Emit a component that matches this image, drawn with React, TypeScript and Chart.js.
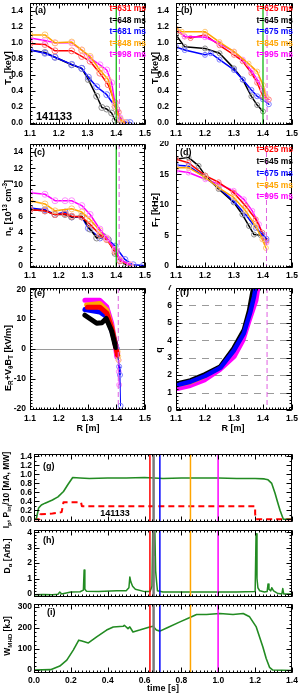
import React, { useEffect, useRef } from 'react';
import { Chart, registerables } from 'chart.js';
Chart.register(...registerables);

const FONT = '"Liberation Sans", Arial, Helvetica, sans-serif';

// ================= labels / categories =================
const teLegend = ['t=631 ms', 't=648 ms', 't=681 ms', 't=848 ms', 't=998 ms'];
const tiLegend = ['t=625 ms', 't=645 ms', 't=675 ms', 't=845 ms', 't=995 ms'];
const seriesColors = ['#ff0000', '#000000', '#0000ff', '#ffa500', '#ff00ff'];
const markerColors = ['#ff7a7a', '#8c8c8c', '#7c7cff', '#ffc878', '#ff8cff'];
const shotNumber = '141133';

// tick values
const rTicks = [1.1, 1.2, 1.3, 1.4, 1.5];
const tempTicks = [0, 0.2, 0.4, 0.6, 0.8, 1.0, 1.2, 1.4];
const neTicks = [0, 2, 4, 6, 8, 10, 12, 14];
const ftTicks = [0, 5, 10, 15, 20];
const erTicks = [-20, -10, 0, 10, 20];
const qTicks = [0, 1, 2, 3, 4, 5, 6, 7];
const qGrid = [1, 2, 3, 4, 5, 6];
const timeTicks = [0, 0.2, 0.4, 0.6, 0.8, 1.0, 1.2, 1.4];
const ipTicks = [0, 0.2, 0.4, 0.6, 0.8, 1.0, 1.2, 1.4];
const daTicks = [0, 1, 2, 3, 4];
const wTicks = [0, 100, 200, 300];

// separatrix markers (R [m])
const sepGreenR = 1.4;
const sepMagR_a = 1.411, sepMagR_b = 1.414, sepMagR_c = 1.41, sepMagR_d = 1.412, sepMagR_e = 1.407, sepMagR_f = 1.414;

// ================= (a) Te =================
const teR_red = [1.1, 1.152, 1.187, 1.245, 1.28, 1.309, 1.343, 1.372, 1.396, 1.407, 1.419];
const te_red = [0.99, 0.98, 0.9, 0.9, 0.83, 0.77, 0.62, 0.475, 0.25, 0.13, 0.01];
const teR_black = [1.1, 1.152, 1.187, 1.245, 1.28, 1.303, 1.332, 1.35, 1.367, 1.384, 1.396, 1.407];
const te_black = [0.91, 0.88, 0.82, 0.725, 0.68, 0.54, 0.33, 0.19, 0.17, 0.12, 0.03, 0.01];
const teR_blue = [1.1, 1.152, 1.187, 1.245, 1.28, 1.303, 1.332, 1.367, 1.396, 1.413, 1.436, 1.448];
const te_blue = [0.91, 0.87, 0.82, 0.73, 0.68, 0.57, 0.45, 0.35, 0.2, 0.04, 0.0, 0.0];
const teR_orange = [1.1, 1.152, 1.187, 1.245, 1.28, 1.309, 1.343, 1.372, 1.396, 1.413, 1.43];
const te_orange = [1.1, 1.1, 1.0, 1.01, 0.91, 0.83, 0.66, 0.54, 0.2, 0.04, 0.0];
const teR_magenta = [1.1, 1.152, 1.187, 1.245, 1.28, 1.309, 1.343, 1.367, 1.384, 1.396, 1.413, 1.43];
const te_magenta = [1.06, 1.03, 1.0, 1.0, 0.91, 0.81, 0.725, 0.66, 0.5, 0.225, 0.06, 0.0];

// ================= (b) Ti =================
const tiR_red = [1.1, 1.13, 1.15, 1.2, 1.25, 1.3, 1.33, 1.36, 1.38, 1.4, 1.42];
const ti_red = [1.16, 1.08, 1.06, 1.1, 0.97, 0.85, 0.77, 0.62, 0.5, 0.33, 0.29];
const tiR_black = [1.1, 1.13, 1.2, 1.25, 1.3, 1.33, 1.36, 1.38, 1.4];
const ti_black = [1.1, 0.95, 0.93, 0.87, 0.68, 0.54, 0.33, 0.22, 0.14];
const tiR_blue = [1.1, 1.13, 1.2, 1.22, 1.25, 1.3, 1.33, 1.36, 1.38, 1.4, 1.42];
const ti_blue = [0.95, 0.91, 0.85, 0.87, 0.79, 0.66, 0.54, 0.41, 0.33, 0.29, 0.23];
const tiR_orange = [1.1, 1.12, 1.2, 1.25, 1.3, 1.35, 1.38, 1.4, 1.41];
const ti_orange = [1.18, 1.14, 1.14, 1.01, 0.89, 0.74, 0.64, 0.47, 0.33];
const tiR_magenta = [1.1, 1.13, 1.2, 1.25, 1.3, 1.33, 1.36, 1.38, 1.4, 1.41];
const ti_magenta = [1.18, 1.08, 1.07, 0.99, 0.89, 0.79, 0.65, 0.54, 0.41, 0.3];

// ================= (c) ne =================
const neR_red = [1.1, 1.152, 1.187, 1.222, 1.245, 1.28, 1.309, 1.343, 1.367, 1.396, 1.413, 1.448];
const ne_red = [6.9, 6.75, 6.3, 6.4, 6.1, 6.0, 5.1, 3.8, 3.2, 1.7, 0.6, 0.05];
const neR_black = [1.1, 1.152, 1.187, 1.222, 1.245, 1.28, 1.309, 1.332, 1.355, 1.372, 1.396, 1.413, 1.436];
const ne_black = [6.9, 6.75, 6.3, 6.3, 6.0, 6.1, 4.5, 3.4, 3.6, 3.2, 1.5, 0.6, 0.05];
const neR_blue = [1.1, 1.152, 1.187, 1.222, 1.245, 1.28, 1.303, 1.343, 1.372, 1.396, 1.43, 1.459, 1.494];
const ne_blue = [7.1, 6.9, 6.3, 6.6, 6.0, 6.0, 4.6, 3.4, 3.2, 2.4, 0.75, 0.1, 0.0];
const neR_orange = [1.1, 1.152, 1.187, 1.245, 1.28, 1.309, 1.343, 1.367, 1.396, 1.413, 1.448];
const ne_orange = [8.0, 7.6, 6.75, 7.0, 6.6, 5.7, 4.3, 3.3, 1.9, 0.7, 0.05];
const neR_magenta = [1.1, 1.152, 1.187, 1.222, 1.245, 1.28, 1.309, 1.343, 1.367, 1.396, 1.413, 1.448];
const ne_magenta = [9.0, 8.8, 8.0, 8.0, 8.0, 7.4, 6.3, 4.5, 3.4, 2.0, 0.75, 0.1];

// ================= (d) FT =================
const ftR_red = [1.1, 1.143, 1.201, 1.247, 1.299, 1.34, 1.375, 1.398, 1.412];
const ft_red = [17.5, 16.9, 14.8, 13.7, 12.0, 9.8, 7.6, 5.4, 4.1];
const ftR_black = [1.1, 1.143, 1.178, 1.201, 1.247, 1.299, 1.329, 1.352, 1.369, 1.392, 1.41];
const ft_black = [17.5, 17.8, 16.4, 14.8, 12.6, 10.4, 8.4, 6.5, 5.1, 5.0, 4.1];
const ftR_blue = [1.1, 1.143, 1.201, 1.247, 1.299, 1.34, 1.375, 1.398, 1.412];
const ft_blue = [16.5, 16.4, 14.5, 12.8, 10.6, 8.4, 6.2, 5.1, 4.4];
const ftR_orange = [1.1, 1.143, 1.201, 1.247, 1.299, 1.34, 1.375, 1.398, 1.41];
const ft_orange = [16.1, 16.1, 14.5, 12.8, 11.2, 9.0, 6.5, 4.3, 2.9];
const ftR_magenta = [1.1, 1.143, 1.201, 1.247, 1.299, 1.334, 1.363, 1.386, 1.404, 1.412];
const ft_magenta = [15.6, 15.3, 14.2, 13.4, 12.3, 10.9, 9.0, 6.8, 4.3, 3.8];

// ================= (e) Er =================
const erR_black = [1.291, 1.332, 1.35, 1.365, 1.384, 1.398];
const er_black = [11.3, 8.6, 8.8, 10.2, 6.0, 0.5];
const erR_red = [1.3, 1.343, 1.367, 1.384, 1.398, 1.404];
const er_red = [14.0, 14.0, 12.0, 7.0, 1.0, -2.0];
const erR_blue = [1.291, 1.343, 1.367, 1.384, 1.402];
const er_blue = [13.2, 12.4, 10.8, 6.3, 0.2];
const erR_orange = [1.297, 1.343, 1.367, 1.384, 1.398, 1.404];
const er_orange = [14.7, 15.2, 13.0, 7.4, 1.3, -1.4];
const erR_magenta = [1.291, 1.343, 1.367, 1.384, 1.396, 1.402];
const er_magenta = [16.3, 16.3, 14.1, 8.6, 1.9, -2.6];
const erEdgeR_blue = [1.402, 1.41, 1.413, 1.415];
const erEdge_blue = [0.2, -5.9, -8.7, -19.0];
const erEdgeR_magenta = [1.404, 1.408, 1.409, 1.41];
const erEdge_magenta = [-1.5, -3.7, -7.6, -12.0];
const erEdgeR_orange = [1.405, 1.407, 1.408];
const erEdge_orange = [-0.9, -2.5, -3.7];

// ================= (f) q =================
const qR_black = [1.1, 1.15, 1.2, 1.253, 1.299, 1.334, 1.352, 1.363, 1.372];
const q_black = [1.5, 1.7, 2.05, 2.5, 3.56, 4.6, 5.7, 6.7, 7.5];
const qR_blue = [1.1, 1.15, 1.2, 1.253, 1.299, 1.334, 1.356, 1.369, 1.38];
const q_blue = [1.42, 1.62, 1.95, 2.42, 3.4, 4.4, 5.6, 6.5, 7.5];
const qR_orange = [1.1, 1.15, 1.2, 1.253, 1.299, 1.334, 1.356, 1.372, 1.382];
const q_orange = [1.33, 1.5, 1.85, 2.4, 3.3, 4.3, 5.4, 6.6, 7.5];
const qR_magenta = [1.1, 1.149, 1.2, 1.25, 1.3, 1.33, 1.35, 1.375, 1.386];
const q_magenta = [1.23, 1.42, 1.76, 2.33, 3.09, 4.0, 5.07, 6.3, 7.5];

// ================= (g) Ip, Pinj/10 =================
const ipT = [0.0, 0.012, 0.025, 0.04, 0.06, 0.1, 0.13, 0.16, 0.185, 0.21, 0.25, 0.3, 0.4, 0.5, 0.6, 0.7, 0.8, 0.9, 1.0, 1.1, 1.2, 1.25, 1.27, 1.29, 1.308, 1.322, 1.335, 1.353, 1.4];
const ipV = [0.0, 0.0, 0.25, 0.32, 0.36, 0.43, 0.5, 0.62, 0.78, 0.93, 0.92, 0.91, 0.92, 0.92, 0.93, 0.91, 0.92, 0.92, 0.92, 0.91, 0.91, 0.9, 0.88, 0.8, 0.58, 0.38, 0.2, 0.0, 0.0];
const pinjT = [0.0, 0.03, 0.035, 0.1, 0.15, 0.16, 0.255, 0.26, 1.2, 1.2, 1.205, 1.4];
const pinjV = [0.0, 0.0, 0.11, 0.13, 0.16, 0.38, 0.38, 0.29, 0.29, 0.12, 0.0, 0.0];
const timeLines = [0.629, 0.649, 0.683, 0.849, 0.999];
const timeLineColors = ['#ff0000', '#7a7a7a', '#0000ff', '#ffa500', '#ff00ff'];
const timeLineWidths = [1.5, 2.5, 1.5, 1.5, 1.5];

// ================= (h) D-alpha =================
const daT = [0.0, 0.05, 0.1, 0.13, 0.14, 0.15, 0.2, 0.25, 0.268, 0.272, 0.276, 0.285, 0.35, 0.45, 0.5, 0.515, 0.52, 0.525, 0.535, 0.55, 0.6, 0.63, 0.64, 0.645, 0.65, 0.655, 0.66, 0.665, 0.67, 0.7, 0.8, 0.9, 1.0, 1.1, 1.2, 1.205, 1.21, 1.215, 1.225, 1.25, 1.265, 1.27, 1.275, 1.285, 1.29, 1.3, 1.32, 1.345, 1.35, 1.355, 1.4];
const daV = [-0.05, -0.04, -0.05, -0.02, 0.12, 0.0, 0.12, 0.14, 0.25, 1.55, 0.3, 0.18, 0.15, 0.2, 0.2, 0.4, 1.1, 0.8, 0.5, 0.3, 0.15, 0.15, 0.5, 4.5, 2.5, 4.5, 1.5, 0.8, 0.2, 0.12, 0.12, 0.12, 0.12, 0.12, 0.15, 3.9, 1.0, 0.4, 0.2, 0.12, 0.15, 0.65, 0.3, 0.2, 0.4, 0.2, 0.05, 0.0, 0.35, 0.0, 0.0];

// ================= (i) W_MHD =================
const wT = [0.0, 0.09, 0.14, 0.178, 0.213, 0.243, 0.26, 0.295, 0.34, 0.394, 0.43, 0.484, 0.49, 0.51, 0.52, 0.537, 0.573, 0.628, 0.646, 0.664, 0.683, 0.72, 0.792, 0.846, 0.882, 0.936, 1.008, 1.08, 1.135, 1.17, 1.206, 1.242, 1.26, 1.278, 1.296, 1.4];
const wV = [0, 2, 19, 47, 95, 142, 138, 129, 158, 190, 205, 208, 213, 197, 205, 181, 190, 205, 208, 190, 185, 200, 229, 250, 264, 264, 269, 264, 269, 253, 205, 110, 55, 13, 0, -2];

// ================= helpers =================
const steps = (a: number, b: number, s: number) => {
  const out: number[] = [];
  const n = Math.round((b - a) / s);
  for (let i = 0; i <= n; i++) out.push(+(a + i * s).toFixed(6));
  return out;
};
const fmt1 = (v: number) => v.toFixed(1);
const fmt0 = (v: number) => String(Math.round(v));

type Part = [string, string?];
const GREEN = '#228b22';
const TICK_SIZE = 8.5;

function line(xs: number[], ys: number[], color: string, o: any = {}) {
  return {
    data: xs.map((x, i) => ({ x, y: ys[i] })),
    borderColor: color,
    backgroundColor: color,
    borderWidth: 1.5,
    tension: 0,
    pointRadius: 0,
    fill: false,
    clip: 0,
    borderJoinStyle: 'round',
    borderCapStyle: 'round',
    ...o,
  };
}
function profile(xs: number[], ys: number[], idx: number, o: any = {}) {
  return line(xs, ys, seriesColors[idx], {
    pointRadius: 3,
    pointStyle: 'circle',
    pointBorderColor: markerColors[idx],
    pointBackgroundColor: 'rgba(0,0,0,0)',
    pointBorderWidth: 1,
    ...o,
  });
}

function drawRich(ctx: CanvasRenderingContext2D, parts: Part[], x: number, y: number, size: number, color: string, align: string, rot: boolean) {
  ctx.save();
  ctx.translate(x, y);
  if (rot) ctx.rotate(-Math.PI / 2);
  const segs = parts.map(([t, m]) => {
    const s = m ? size * 0.72 : size;
    ctx.font = `bold ${s}px ${FONT}`;
    return { t, m, s, w: ctx.measureText(t).width };
  });
  const total = segs.reduce((a, s) => a + s.w, 0);
  let cx = align === 'center' ? -total / 2 : align === 'right' ? -total : 0;
  ctx.fillStyle = color;
  ctx.textBaseline = 'middle';
  ctx.textAlign = 'left';
  for (const s of segs) {
    ctx.font = `bold ${s.s}px ${FONT}`;
    const dy = s.m === 'sub' ? size * 0.3 : s.m === 'sup' ? -size * 0.38 : 0;
    ctx.fillText(s.t, cx, dy);
    cx += s.w;
  }
  ctx.restore();
}

type TextSpec = { x: number; y: number; parts: Part[]; color?: string; size?: number; align?: string; rot?: boolean };
type LineSpec = { v: number; color: string; width: number; dash?: number[] };

interface PanelSpec {
  id: string;
  box: { x: number; y: number; w: number; h: number };
  area: { l: number; t: number; r: number; b: number };
  xr: [number, number];
  yr: [number, number];
  xTicks: number[];
  xMinor: number[];
  xFmt: (v: number) => string;
  xLabels: boolean;
  xPad: number;
  yTicks: number[];
  yMinor: number[];
  yFmt: (v: number) => string;
  yPad: number;
  datasets: any[];
  vlines: LineSpec[];
  hlines: LineSpec[];
  texts: TextSpec[];
}

function makeDeco(s: PanelSpec) {
  return {
    id: 'deco_' + s.id,
    beforeDatasetsDraw(chart: any) {
      const { ctx, chartArea: a, scales } = chart;
      ctx.save();
      ctx.beginPath();
      ctx.rect(a.left, a.top, a.right - a.left, a.bottom - a.top);
      ctx.clip();
      for (const h of s.hlines) {
        const py = Math.round(scales.y.getPixelForValue(h.v)) + 0.5;
        ctx.strokeStyle = h.color;
        ctx.lineWidth = h.width;
        ctx.setLineDash(h.dash || []);
        ctx.beginPath();
        ctx.moveTo(a.left, py);
        ctx.lineTo(a.right, py);
        ctx.stroke();
      }
      ctx.restore();
    },
    afterDatasetsDraw(chart: any) {
      const { ctx, chartArea: a, scales } = chart;
      ctx.save();
      ctx.beginPath();
      ctx.rect(a.left, a.top, a.right - a.left, a.bottom - a.top);
      ctx.clip();
      for (const v of s.vlines) {
        const px = scales.x.getPixelForValue(v.v);
        ctx.strokeStyle = v.color;
        ctx.lineWidth = v.width;
        ctx.setLineDash(v.dash || []);
        ctx.beginPath();
        ctx.moveTo(px, a.top);
        ctx.lineTo(px, a.bottom);
        ctx.stroke();
      }
      ctx.restore();
    },
    afterDraw(chart: any) {
      const { ctx, chartArea: a, scales } = chart;
      const { x, y } = scales;
      ctx.save();
      ctx.strokeStyle = '#000';
      ctx.lineWidth = 1;
      ctx.setLineDash([]);
      const L = Math.round(a.left) + 0.5, R = Math.round(a.right) - 0.5;
      const T = Math.round(a.top) + 0.5, B = Math.round(a.bottom) - 0.5;
      ctx.strokeRect(L, T, R - L, B - T);
      ctx.beginPath();
      const xt = (vals: number[], len: number) => {
        for (const v of vals) {
          if (v < s.xr[0] || v > s.xr[1]) continue;
          const px = Math.round(x.getPixelForValue(v)) + 0.5;
          ctx.moveTo(px, B); ctx.lineTo(px, B - len);
          ctx.moveTo(px, T); ctx.lineTo(px, T + len);
        }
      };
      const yt = (vals: number[], len: number) => {
        for (const v of vals) {
          if (v < s.yr[0] || v > s.yr[1]) continue;
          const py = Math.round(y.getPixelForValue(v)) + 0.5;
          ctx.moveTo(L, py); ctx.lineTo(L + len, py);
          ctx.moveTo(R, py); ctx.lineTo(R - len, py);
        }
      };
      xt(s.xMinor, 2); xt(s.xTicks, 5);
      yt(s.yMinor, 2); yt(s.yTicks, 5);
      ctx.stroke();
      ctx.restore();
      for (const t of s.texts) {
        drawRich(ctx, t.parts, t.x - s.box.x, t.y - s.box.y, t.size || 9, t.color || '#000', t.align || 'left', !!t.rot);
      }
    },
  };
}

function buildConfig(s: PanelSpec) {
  const { box, area } = s;
  const yW = area.l - box.x;
  const xH = box.y + box.h - area.b;
  const tickFont = { family: FONT, size: TICK_SIZE, weight: 'bold' };
  const zero = (ax: any) => {
    ax.paddingLeft = 0; ax.paddingRight = 0; ax.paddingTop = 0; ax.paddingBottom = 0;
  };
  return {
    type: 'line',
    data: { datasets: s.datasets },
    options: {
      animation: false,
      responsive: false,
      maintainAspectRatio: false,
      devicePixelRatio: 1,
      events: [],
      layout: {
        autoPadding: false,
        padding: { left: 0, top: area.t - box.y, right: box.x + box.w - area.r, bottom: 0 },
      },
      plugins: { legend: { display: false }, tooltip: { enabled: false }, title: { display: false } },
      scales: {
        x: {
          type: 'linear', position: 'bottom', min: s.xr[0], max: s.xr[1],
          grid: { display: false, drawTicks: false }, border: { display: false },
          ticks: { display: s.xLabels, padding: s.xPad, font: tickFont, color: '#000', autoSkip: false, maxRotation: 0, minRotation: 0, callback: (v: any) => s.xFmt(Number(v)) },
          afterBuildTicks: (ax: any) => { ax.ticks = s.xTicks.map((v) => ({ value: v })); },
          afterFit: (ax: any) => { ax.height = xH; zero(ax); },
        },
        y: {
          type: 'linear', position: 'left', min: s.yr[0], max: s.yr[1],
          grid: { display: false, drawTicks: false }, border: { display: false },
          ticks: { display: true, padding: s.yPad, font: tickFont, color: '#000', autoSkip: false, callback: (v: any) => s.yFmt(Number(v)) },
          afterBuildTicks: (ax: any) => { ax.ticks = s.yTicks.map((v) => ({ value: v })); },
          afterFit: (ax: any) => { ax.width = yW; zero(ax); },
        },
      },
    },
    plugins: [makeDeco(s)],
  };
}

const legendTexts = (labels: string[], xRight: number, ys: number[]): TextSpec[] =>
  labels.map((l, i) => ({ x: xRight, y: ys[i], parts: [[l]] as Part[], color: seriesColors[i], size: 8.5, align: 'right' }));

const magDash = (v: number): LineSpec => ({ v, color: '#e060e0', width: 1, dash: [5, 3] });
const greenSolid = (v: number): LineSpec => ({ v, color: '#00b000', width: 1.2 });
const tLines: LineSpec[] = timeLines.map((v, i) => ({ v, color: timeLineColors[i], width: timeLineWidths[i] }));

const specs: PanelSpec[] = [
  {
    id: 'a', box: { x: 0, y: 0, w: 152, h: 140 }, area: { l: 30, t: 3, r: 145, b: 125 },
    xr: [1.1, 1.5], yr: [-0.03, 1.5], xTicks: rTicks, xMinor: steps(1.1, 1.5, 0.01), xFmt: fmt1, xLabels: true, xPad: 4,
    yTicks: tempTicks, yMinor: steps(0, 1.5, 0.05), yFmt: fmt1, yPad: 7,
    datasets: [
      profile(teR_orange, te_orange, 3), profile(teR_magenta, te_magenta, 4), profile(teR_red, te_red, 0),
      profile(teR_blue, te_blue, 2), profile(teR_black, te_black, 1),
    ],
    vlines: [greenSolid(sepGreenR), magDash(sepMagR_a)], hlines: [],
    texts: [
      { x: 35, y: 11, parts: [['(a)']] },
      ...legendTexts(teLegend, 146, [9, 20.5, 32, 43.5, 55]),
      { x: 54, y: 117, parts: [[shotNumber]], size: 11, align: 'center' },
      { x: 9, y: 68, parts: [['T'], ['e', 'sub'], [' [keV]']], align: 'center', rot: true },
    ],
  },
  {
    id: 'b', box: { x: 148, y: 0, w: 151, h: 140 }, area: { l: 176, t: 3, r: 292, b: 125 },
    xr: [1.1, 1.5], yr: [-0.03, 1.5], xTicks: rTicks, xMinor: steps(1.1, 1.5, 0.01), xFmt: fmt1, xLabels: true, xPad: 4,
    yTicks: tempTicks, yMinor: steps(0, 1.5, 0.05), yFmt: fmt1, yPad: 7,
    datasets: [
      profile(tiR_orange, ti_orange, 3, { pointRadius: 2.5 }), profile(tiR_magenta, ti_magenta, 4, { pointRadius: 2.5 }),
      profile(tiR_red, ti_red, 0, { pointRadius: 2.5 }), profile(tiR_blue, ti_blue, 2, { pointRadius: 2.5 }),
      profile(tiR_black, ti_black, 1, { pointRadius: 2.5 }),
    ],
    vlines: [greenSolid(sepGreenR), magDash(sepMagR_b)], hlines: [],
    texts: [
      { x: 181, y: 11, parts: [['(b)']] },
      ...legendTexts(tiLegend, 293, [9, 20.5, 32, 43.5, 55]),
      { x: 156, y: 68, parts: [['T'], ['i', 'sub'], [' [keV]']], align: 'center', rot: true },
    ],
  },
  {
    id: 'c', box: { x: 0, y: 141, w: 152, h: 142 }, area: { l: 30, t: 144, r: 145, b: 268 },
    xr: [1.1, 1.5], yr: [-0.3, 15], xTicks: rTicks, xMinor: steps(1.1, 1.5, 0.01), xFmt: fmt1, xLabels: true, xPad: 3,
    yTicks: neTicks, yMinor: steps(0, 15, 0.5), yFmt: fmt0, yPad: 7,
    datasets: [
      profile(neR_magenta, ne_magenta, 4), profile(neR_orange, ne_orange, 3), profile(neR_red, ne_red, 0),
      profile(neR_black, ne_black, 1), profile(neR_blue, ne_blue, 2),
    ],
    vlines: [greenSolid(sepGreenR), magDash(sepMagR_c)], hlines: [],
    texts: [
      { x: 34, y: 153, parts: [['(c)']] },
      { x: 8.5, y: 208, parts: [['n'], ['e', 'sub'], [' [10'], ['13', 'sup'], [' cm'], ['-3', 'sup'], [']']], align: 'center', rot: true },
    ],
  },
  {
    id: 'd', box: { x: 148, y: 141, w: 151, h: 142 }, area: { l: 176, t: 144, r: 292, b: 268 },
    xr: [1.1, 1.5], yr: [-0.4, 20], xTicks: rTicks, xMinor: steps(1.1, 1.5, 0.01), xFmt: fmt1, xLabels: true, xPad: 3,
    yTicks: ftTicks, yMinor: steps(0, 20, 1), yFmt: fmt0, yPad: 7,
    datasets: [
      profile(ftR_orange, ft_orange, 3, { pointRadius: 2.5 }), profile(ftR_blue, ft_blue, 2, { pointRadius: 2.5 }),
      profile(ftR_red, ft_red, 0, { pointRadius: 2.5 }), profile(ftR_magenta, ft_magenta, 4, { pointRadius: 2.5 }),
      profile(ftR_black, ft_black, 1, { pointRadius: 2.5 }),
    ],
    vlines: [magDash(sepMagR_d)], hlines: [],
    texts: [
      { x: 180, y: 153, parts: [['(d)']] },
      ...legendTexts(tiLegend, 293, [150, 162, 174, 185.5, 197]),
      { x: 156, y: 210, parts: [['F'], ['T', 'sub'], [' [kHz]']], align: 'center', rot: true },
    ],
  },
  {
    id: 'e', box: { x: 0, y: 285, w: 152, h: 153 }, area: { l: 30, t: 288, r: 145, b: 410 },
    xr: [1.1, 1.5], yr: [-20.4, 20.4], xTicks: rTicks, xMinor: steps(1.1, 1.5, 0.01), xFmt: fmt1, xLabels: true, xPad: 4,
    yTicks: erTicks, yMinor: steps(-20, 20, 1), yFmt: fmt0, yPad: 4,
    datasets: [
      line(erR_black, er_black, '#000000', { borderWidth: 5 }),
      line(erR_red, er_red, '#ff0000', { borderWidth: 5 }),
      line(erEdgeR_blue, erEdge_blue, '#0000ff', { borderWidth: 1, pointRadius: 2.5, pointBorderColor: markerColors[2], pointBackgroundColor: 'rgba(0,0,0,0)' }),
      line(erEdgeR_orange, erEdge_orange, '#ffa500', { borderWidth: 1, pointRadius: 2.5, pointBorderColor: markerColors[3], pointBackgroundColor: 'rgba(0,0,0,0)' }),
      line(erEdgeR_magenta, erEdge_magenta, '#ff00ff', { borderWidth: 1, pointRadius: 2.5, pointBorderColor: markerColors[4], pointBackgroundColor: 'rgba(0,0,0,0)' }),
      line(erR_blue, er_blue, '#0000ff', { borderWidth: 5 }),
      line(erR_orange, er_orange, '#ffa500', { borderWidth: 5 }),
      line(erR_magenta, er_magenta, '#ff00ff', { borderWidth: 5 }),
    ],
    vlines: [magDash(sepMagR_e)], hlines: [{ v: 0, color: '#9a9a9a', width: 1 }],
    texts: [
      { x: 34, y: 294, parts: [['(e)']] },
      { x: 9, y: 358, parts: [['E'], ['R', 'sub'], ['+V'], ['θ', 'sub'], ['B'], ['T', 'sub'], [' [kV/m]']], align: 'center', rot: true },
      { x: 88, y: 429, parts: [['R [m]']], align: 'center' },
    ],
  },
  {
    id: 'f', box: { x: 148, y: 285, w: 151, h: 153 }, area: { l: 176, t: 288, r: 292, b: 410 },
    xr: [1.1, 1.5], yr: [0, 7], xTicks: rTicks, xMinor: steps(1.1, 1.5, 0.01), xFmt: fmt1, xLabels: true, xPad: 4,
    yTicks: qTicks, yMinor: steps(0, 7, 0.2), yFmt: fmt0, yPad: 4,
    datasets: [
      line(qR_blue, q_blue, '#0000ff', { borderWidth: 4.5 }),
      line(qR_black, q_black, '#000000', { borderWidth: 4.5 }),
      line(qR_orange, q_orange, '#ffa500', { borderWidth: 1.5 }),
      line(qR_magenta, q_magenta, '#ff00ff', { borderWidth: 5.5 }),
    ],
    vlines: [magDash(sepMagR_f)],
    hlines: qGrid.map((v) => ({ v, color: '#9a9a9a', width: 1, dash: [7, 6] })),
    texts: [
      { x: 180, y: 293, parts: [['(f)']] },
      { x: 160, y: 350, parts: [['q']], align: 'center', rot: true },
      { x: 233, y: 429, parts: [['R [m]']], align: 'center' },
    ],
  },
  {
    id: 'g', box: { x: 0, y: 445, w: 299, h: 84 }, area: { l: 34, t: 454, r: 292, b: 522 },
    xr: [0, 1.4], yr: [-0.06, 1.455], xTicks: timeTicks, xMinor: steps(0, 1.4, 0.02), xFmt: fmt1, xLabels: false, xPad: 3,
    yTicks: ipTicks, yMinor: steps(0, 1.4, 0.1), yFmt: fmt1, yPad: 2,
    datasets: [
      line(ipT, ipV, GREEN, { borderWidth: 1.6 }),
      line(pinjT, pinjV, '#ff0000', { borderWidth: 2, borderDash: [6, 4], borderCapStyle: 'butt' }),
    ],
    vlines: tLines, hlines: [],
    texts: [
      { x: 43, y: 467, parts: [['(g)']] },
      { x: 115, y: 514, parts: [[shotNumber]], size: 9, align: 'center' },
      { x: 7, y: 490, parts: [['I'], ['p', 'sub'], [', P'], ['inj', 'sub'], ['/10 [MA, MW]']], size: 8.5, align: 'center', rot: true },
    ],
  },
  {
    id: 'h', box: { x: 0, y: 527, w: 299, h: 72 }, area: { l: 34, t: 530, r: 292, b: 597 },
    xr: [0, 1.4], yr: [-0.2, 4.15], xTicks: timeTicks, xMinor: steps(0, 1.4, 0.02), xFmt: fmt1, xLabels: false, xPad: 3,
    yTicks: daTicks, yMinor: steps(0, 4, 0.2), yFmt: fmt0, yPad: 2,
    datasets: [line(daT, daV, GREEN, { borderWidth: 1.5 })],
    vlines: tLines, hlines: [],
    texts: [
      { x: 43, y: 541, parts: [['(h)']] },
      { x: 8, y: 556, parts: [['D'], ['α', 'sub'], [' [Arb.]']], size: 8.5, align: 'center', rot: true },
    ],
  },
  {
    id: 'i', box: { x: 0, y: 600, w: 299, h: 95 }, area: { l: 34, t: 604, r: 292, b: 673 },
    xr: [0, 1.4], yr: [-14, 314], xTicks: timeTicks, xMinor: steps(0, 1.4, 0.02), xFmt: fmt1, xLabels: true, xPad: 3,
    yTicks: wTicks, yMinor: steps(0, 300, 20), yFmt: fmt0, yPad: 2,
    datasets: [line(wT, wV, GREEN, { borderWidth: 1.6 })],
    vlines: tLines, hlines: [],
    texts: [
      { x: 47, y: 613, parts: [['(i)']] },
      { x: 7.5, y: 636, parts: [['W'], ['MHD', 'sub'], [' [kJ]']], size: 8.5, align: 'center', rot: true },
      { x: 163, y: 689, parts: [['time [s]']], align: 'center' },
    ],
  },
];

function Panel({ spec }: { spec: PanelSpec }) {
  const ref = useRef<HTMLCanvasElement>(null);
  useEffect(() => {
    const chart = new Chart(ref.current as HTMLCanvasElement, buildConfig(spec) as any);
    return () => chart.destroy();
  }, [spec]);
  return (
    <canvas
      ref={ref}
      width={spec.box.w}
      height={spec.box.h}
      style={{ position: 'absolute', left: spec.box.x, top: spec.box.y, width: spec.box.w, height: spec.box.h }}
    />
  );
}

export default function App() {
  return (
    <div style={{ position: 'fixed', left: 0, top: 0, width: 299, height: 695, background: '#ffffff', overflow: 'hidden' }}>
      {specs.map((s) => (
        <Panel key={s.id} spec={s} />
      ))}
    </div>
  );
}
